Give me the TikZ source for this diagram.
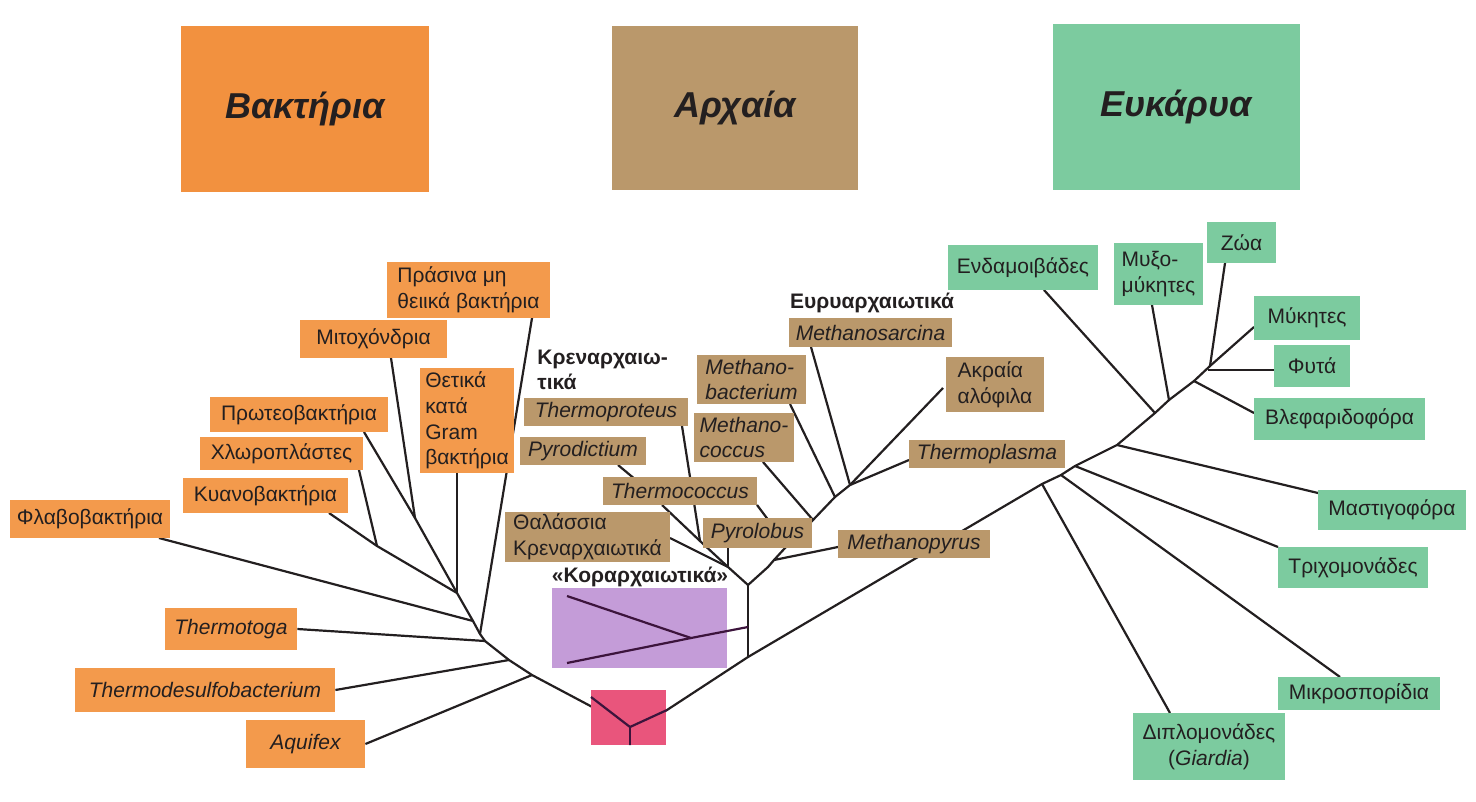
\documentclass[tikz,border=0pt]{standalone}
\usepackage{fontspec}
\setmainfont{Liberation Sans}
\pgfdeclarelayer{bg}
\pgfsetlayers{bg,main}
\definecolor{bac}{HTML}{F39A4C}
\definecolor{bach}{HTML}{F2913F}
\definecolor{arc}{HTML}{BA986B}
\definecolor{euk}{HTML}{7CCB9F}
\definecolor{kor}{HTML}{C49CD8}
\definecolor{rootc}{HTML}{E9557C}
\definecolor{ink}{HTML}{231F20}
\newcommand\bx[7]{\node[bx,fill=#7,minimum width={(#4-#2)*0.5pt},minimum height={(#5-#3)*0.5pt}] (#1) at ({(#2+#4)/2},{(#3+#5)/2}) {#6};}
\tikzset{
 bx/.style={inner sep=0pt,text=ink,font=\fontsize{10.5}{12.8}\selectfont,align=left},
 hd/.style={inner sep=0pt,text=ink,font=\fontsize{18}{20}\selectfont\bfseries\itshape},
 lab/.style={inner sep=0pt,text=ink,font=\fontsize{10.5}{12.8}\selectfont\bfseries,align=left},
 ln/.style={draw=ink,line width=1.1pt},
 kln/.style={draw={rgb,255:red,60;green,20;blue,60},line width=1.1pt}
}
\begin{document}
\begin{tikzpicture}[x=0.5pt,y=-0.5pt]
\useasboundingbox (0,0) rectangle (1476,802);
% headers
\node[hd,fill=bach,minimum width=124pt,minimum height=83pt] (hb) at (305,109) {Βακτήρια};
\node[hd,fill=arc,minimum width=123pt,minimum height=82pt] (ha) at (735,108) {Αρχαία};
\node[hd,fill=euk,minimum width=123.5pt,minimum height=83pt] (he) at (1176,107) {Ευκάρυα};
% bacteria boxes
\bx{pras}{387}{262}{550}{318}{Πράσινα μη\\θειικά βακτήρια}{bac}
\bx{mito}{300}{320}{447}{358}{Μιτοχόνδρια}{bac}
\bx{thet}{420}{368}{514}{473}{Θετικά\\κατά\\Gram\\βακτήρια}{bac}
\bx{prot}{210}{397}{388}{432}{Πρωτεοβακτήρια}{bac}
\bx{chlo}{200}{437}{363}{470}{Χλωροπλάστες}{bac}
\bx{kyan}{183}{478}{348}{513}{Κυανοβακτήρια}{bac}
\bx{flav}{10}{500}{170}{538}{Φλαβοβακτήρια}{bac}
\bx{tmtg}{165}{608}{297}{650}{\itshape Thermotoga}{bac}
\bx{tdsf}{75}{668}{335}{712}{\itshape Thermodesulfobacterium}{bac}
\bx{aqui}{246}{720}{365}{768}{\itshape Aquifex}{bac}
% archaea
\bx{kor}{552}{588}{727}{668}{}{kor}
\node[lab] (korl) at (640,577) {«Κοραρχαιωτικά»};
\bx{pink}{591}{690}{666}{745}{}{rootc}
\node[lab,anchor=west] (cren) at (537,370) {Κρεναρχαιω-\\τικά};
\node[lab] (eury) at (872,303) {Ευρυαρχαιωτικά};
\bx{tprt}{524}{398}{688}{426}{\itshape Thermoproteus}{arc}
\bx{pyrd}{520}{437}{646}{465}{\itshape Pyrodictium}{arc}
\bx{tcoc}{603}{477}{757}{505}{\itshape Thermococcus}{arc}
\bx{thal}{505}{512}{670}{562}{Θαλάσσια\\Κρεναρχαιωτικά}{arc}
\bx{pyrl}{703}{518}{812}{548}{\itshape Pyrolobus}{arc}
\bx{mbac}{697}{355}{806}{404}{\itshape Methano-\\\itshape bacterium}{arc}
\bx{mcoc}{694}{413}{794}{462}{\itshape Methano-\\\itshape coccus}{arc}
\bx{msar}{789}{318}{952}{347}{\itshape Methanosarcina}{arc}
\bx{akra}{946}{357}{1044}{412}{Ακραία\\αλόφιλα}{arc}
\bx{tpla}{909}{440}{1065}{468}{\itshape Thermoplasma}{arc}
\bx{mpyr}{838}{530}{990}{558}{\itshape Methanopyrus}{arc}
% eukarya
\bx{enda}{948}{245}{1098}{290}{Ενδαμοιβάδες}{euk}
\bx{myxo}{1114}{243}{1203}{305}{Μυξο-\\μύκητες}{euk}
\bx{zoa}{1207}{222}{1276}{263}{Ζώα}{euk}
\bx{myk}{1254}{296}{1360}{340}{Μύκητες}{euk}
\bx{fyta}{1274}{345}{1350}{387}{Φυτά}{euk}
\bx{vlef}{1254}{398}{1425}{440}{Βλεφαριδοφόρα}{euk}
\bx{mast}{1318}{490}{1466}{530}{Μαστιγοφόρα}{euk}
\bx{trix}{1278}{547}{1428}{588}{Τριχομονάδες}{euk}
\bx{mikr}{1278}{677}{1440}{710}{Μικροσπορίδια}{euk}
\node[bx,fill=euk,minimum width=76pt,minimum height=33.5pt,align=center] (dipl) at (1209,746.5) {Διπλομονάδες\\({\itshape Giardia})};
% junction coordinates
\coordinate (R) at (630,727); \coordinate (Rs) at (630,745);
\coordinate (Ja) at (532,675); \coordinate (Jd) at (509,660);
\coordinate (B0) at (485,641); \coordinate (B1) at (480,634);
\coordinate (Jf) at (473,621); \coordinate (B2) at (457,593);
\coordinate (Jm) at (415,518); \coordinate (Jc2) at (377,546);
\coordinate (Rr) at (667,710); \coordinate (A0) at (748,657);
\coordinate (A1) at (748,585); \coordinate (K0) at (748,627);
\coordinate (K1) at (691,638); \coordinate (Ka) at (567,596); \coordinate (Kb) at (567,663);
\coordinate (Jc) at (728,567); \coordinate (Jt) at (700,541);
\coordinate (Jr) at (768,567); \coordinate (Jp) at (774,560);
\coordinate (Q1) at (785,548); \coordinate (Q2) at (813,520);
\coordinate (Q3) at (835,497); \coordinate (Q4) at (850,485);
\coordinate (E1) at (1042,484); \coordinate (E2) at (1061,475);
\coordinate (E3) at (1075,466); \coordinate (E4) at (1117,445);
\coordinate (E5) at (1155,413); \coordinate (E6) at (1169,400);
\coordinate (E7) at (1194,381); \coordinate (E8) at (1210,366);
\begin{pgfonlayer}{bg}
% bacteria
\draw[ln] (Rs) -- (R) -- (Ja) -- (Jd) -- (B0) -- (B1) -- (Jf) -- (B2) -- (Jm) -- (364,432);
\draw[ln] (Jm) -- (391,358);
\draw[ln] (457,473) -- (B2);
\draw[ln] (B2) -- (Jc2) -- (329,513);
\draw[ln] (Jc2) -- (359,470);
\draw[ln] (532,318) -- (B1);
\draw[ln] (159,538) -- (Jf);
\draw[ln] (tmtg.east) -- (B0);
\draw[ln] (tdsf.east) -- (Jd);
\draw[ln] (aqui.east) -- (Ja);
% archaea / trunk
\draw[ln] (R) -- (Rr) -- (A0) -- (E1) -- (E2) -- (E3) -- (E4) -- (E5) -- (E6) -- (E7) -- (E8) -- (1254,327);
\draw[ln] (A0) -- (A1);
\draw[ln] (Jc) -- (728,548);
\draw[ln] (A1) -- (Jc) -- (670,538);
\draw[ln] (Jc) -- (Jt) -- (662,505);
\draw[ln] (Jt) -- (682,426);
\draw[ln] (618,465) -- (660,500);
\draw[ln] (757,505) -- (772,525);
\draw[ln] (A1) -- (Jr) -- (Jp) -- (Q1) -- (Q2) -- (Q3) -- (Q4) -- (943,388);
\draw[ln] (Jp) -- (838,547);
\draw[ln] (763,462) -- (Q2);
\draw[ln] (790,404) -- (Q3);
\draw[ln] (811,347) -- (Q4);
\draw[ln] (909,460) -- (Q4);
% eukarya
\draw[ln] (1170,713) -- (E1);
\draw[ln] (1340,677) -- (E2);
\draw[ln] (1278,547) -- (E3);
\draw[ln] (1318,493) -- (E4);
\draw[ln] (1044,290) -- (E5);
\draw[ln] (1152,305) -- (E6);
\draw[ln] (1254,413) -- (E7);
\draw[ln] (1274,370) -- (1208,370);
\draw[ln] (1225,263) -- (E8);
\end{pgfonlayer}
% lines drawn over the Korarch and root boxes
\draw[kln] (K0) -- (K1) -- (Ka);
\draw[kln] (K1) -- (Kb);
\draw[kln] (R) -- (Rs);
\draw[kln] (R) -- (Rr);
\draw[kln] (R) -- (591,697);
\end{tikzpicture}
\end{document}
